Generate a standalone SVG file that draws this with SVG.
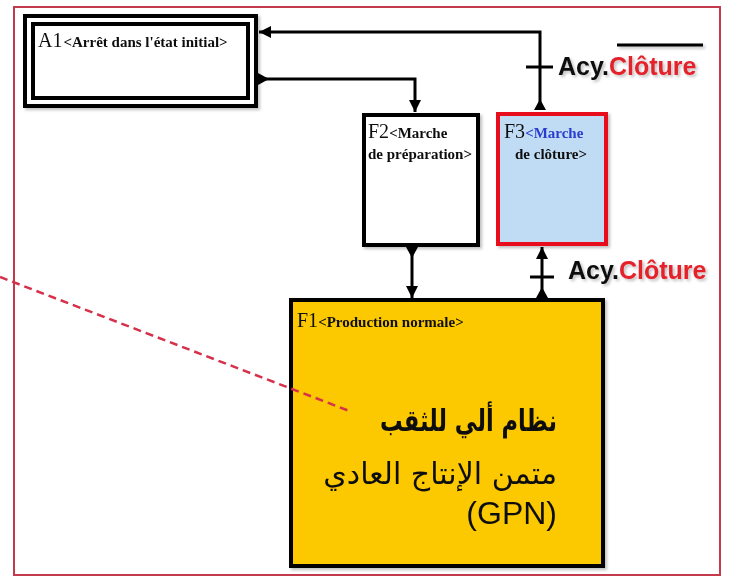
<svg xmlns="http://www.w3.org/2000/svg" width="731" height="577" viewBox="0 0 731 577">
<defs>
<style>
.box{stroke:#000;stroke-width:4;}
.lbl{font-family:"Liberation Serif",serif;fill:#111;}
.big{font-size:20px;}
.sm{font-size:15px;font-weight:bold;}
.wire{fill:none;stroke:#000;stroke-width:3;}
.tick{stroke:#000;stroke-width:3;}
.tri{fill:#000;}
.acy{font-family:"Liberation Sans",Arial,sans-serif;font-size:25px;font-weight:bold;fill:#111;}
.red{fill:#e3202c;}
.ar{font-family:"DejaVu Sans","Noto Sans",sans-serif;font-size:30px;fill:#111;}
</style>
<marker id="ah" markerUnits="userSpaceOnUse" markerWidth="14" markerHeight="14" refX="12" refY="6" orient="auto">
<path d="M0,0 L12,6 L0,12 Z" fill="#000"/>
</marker>
<filter id="sh" x="-10%" y="-10%" width="120%" height="120%">
<feDropShadow dx="2" dy="2" stdDeviation="1.5" flood-color="#000" flood-opacity="0.25"/>
</filter>
</defs>

<rect id="frame" x="14" y="7" width="706" height="568" fill="#fff" stroke="#c23a4c" stroke-width="2"/>

<g id="A1" filter="url(#sh)">
<rect x="25" y="16" width="231" height="90" fill="#fff" class="box" stroke-width="5"/>
<rect x="33" y="24" width="215" height="74" fill="none" class="box"/>
<text class="lbl" x="38" y="47"><tspan class="big">A1</tspan><tspan class="sm" dx="1">&lt;Arrêt dans l'état initial&gt;</tspan></text>
</g>

<g id="F2" filter="url(#sh)">
<rect x="364" y="115" width="114" height="130" fill="#fff" class="box"/>
<text class="lbl" x="368" y="138"><tspan class="big">F2</tspan><tspan class="sm">&lt;Marche</tspan></text>
<text class="lbl sm" x="368" y="159" font-size="15.5px">de préparation&gt;</text>
</g>

<g id="F3" filter="url(#sh)">
<rect x="498" y="114" width="108" height="130" fill="#c0dcf4" stroke="#e8101c" stroke-width="4"/>
<text class="lbl" x="504" y="138"><tspan class="big">F3</tspan><tspan class="sm" fill="#2a3cd0" font-size="16px">&lt;Marche</tspan></text>
<text class="lbl sm" x="515" y="159" fill="#2a3cd0" font-size="16px">de clôture&gt;</text>
</g>

<g id="F1" filter="url(#sh)">
<rect x="291" y="300" width="312" height="266" fill="#fcc800" class="box"/>
<text class="lbl" x="297" y="327"><tspan class="big">F1</tspan><tspan class="sm" font-size="14.5px">&lt;Production normale&gt;</tspan></text>
<text class="ar" x="557" y="431" text-anchor="end" font-weight="bold" textLength="177" lengthAdjust="spacingAndGlyphs">نظام ألي للثقب</text>
<text class="ar" x="557" y="484" text-anchor="end">متمن الإنتاج العادي</text>
<text x="557" y="524" text-anchor="end" font-family="Liberation Sans,Arial,sans-serif" font-size="32px" fill="#111">(GPN)</text>
</g>

<line id="dashed" x1="0" y1="277" x2="352" y2="412" stroke="#d6304a" stroke-width="2.5" stroke-dasharray="8,5"/>

<g id="connectors">
<path class="wire" d="M540,110 V32 H259" marker-end="url(#ah)"/>
<polygon class="tri" points="534,110 546,110 540,99"/>
<line class="tick" x1="526" y1="67" x2="553" y2="67"/>

<path class="wire" d="M258,79 H415 V112" marker-end="url(#ah)"/>
<polygon class="tri" points="258,73 258,85 269,79"/>

<path class="wire" d="M412,246 V298" marker-end="url(#ah)"/>
<polygon class="tri" points="406,247 418,247 412,258"/>

<path class="wire" d="M542,298 V247" marker-end="url(#ah)"/>
<polygon class="tri" points="536,298 548,298 542,287"/>
<line class="tick" x1="530" y1="277" x2="554" y2="277"/>
</g>

<g id="labels" filter="url(#sh)">
<text class="acy" x="558" y="75">Acy.<tspan class="red">Clôture</tspan></text>
<line x1="617" y1="45" x2="703" y2="45" stroke="#000" stroke-width="3"/>
<text class="acy" x="568" y="279">Acy.<tspan class="red">Clôture</tspan></text>
</g>
</svg>
